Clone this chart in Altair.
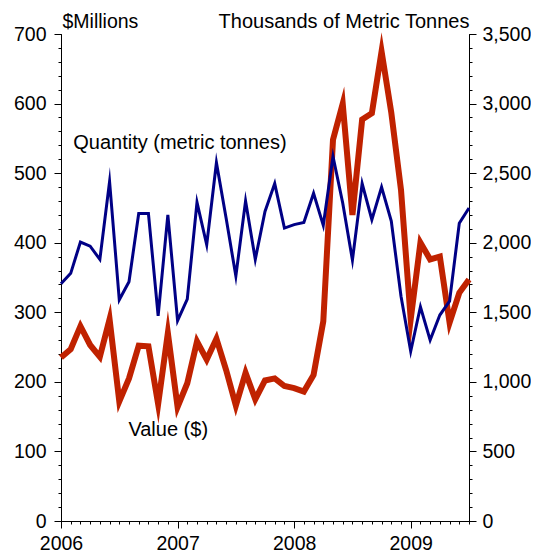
import altair as alt
import pandas as pd

# Monthly observations, Jan 2006 .. Jul 2009
months = [f"{y}-{m:02d}" for y in range(2006, 2010) for m in range(1, 13)][:43]

# Value, $ millions (left axis)
value_musd = [235, 247, 280, 253, 236, 290, 172, 205, 252, 251,
              168, 270, 164, 198, 258, 232, 262, 217, 166, 213,
              175, 202, 205, 194, 191, 186, 210, 287, 548, 600,
              440, 577, 586, 675, 587, 476, 290, 400, 376, 380,
              285, 328, 347]

# Quantity, thousands of metric tonnes (right axis)
quantity_kt = [1705, 1780, 2005, 1975, 1880, 2440, 1590, 1720, 2210, 2210,
               1475, 2200, 1440, 1595, 2290, 1985, 2575, 2175, 1760, 2300,
               1880, 2225, 2425, 2105, 2130, 2145, 2355, 2125, 2620, 2285,
               1875, 2425, 2165, 2400, 2155, 1615, 1220, 1540, 1300, 1480,
               1580, 2140, 2250]

year_ticks = [2006, 2007, 2008, 2009]
left_ticks = list(range(0, 701, 100))
left_minor = list(range(0, 701, 20))
right_ticks = list(range(0, 3501, 500))
right_minor = list(range(0, 3501, 100))

ann_label = ["Quantity (metric tonnes)", "Value ($)"]
ann_t = [2006.105, 2006.578]
ann_v = [534, 122]

df = pd.DataFrame({"month": months, "value": value_musd, "qty": quantity_kt})
df["t"] = df["month"].apply(lambda s: int(s[:4]) + (int(s[5:]) - 1) / 12)
month_ticks = list(df["t"])
ann = pd.DataFrame({"label": ann_label, "t": ann_t, "v": ann_v})

RED = "#C02200"
BLUE = "#000085"
FONT = "Liberation Sans"
FS = 19.5

xs = alt.Scale(domain=[2006, 2009.5], nice=False, zero=False)
yl = alt.Scale(domain=[0, 700], nice=False)
yr = alt.Scale(domain=[0, 3500], nice=False)

base = alt.Chart(df)

red = base.mark_line(color=RED, strokeWidth=6, strokeJoin="miter", strokeMiterLimit=10).encode(
    x=alt.X("t:Q", scale=xs, axis=alt.Axis(values=year_ticks, format="d", orient="bottom",
                                          title=None, tickSize=7, labelPadding=6, labelFlush=False)),
    y=alt.Y("value:Q", scale=yl, axis=alt.Axis(values=left_ticks, format="d", orient="left", tickSize=7,
                                              labelPadding=8, title="$Millions", titleAngle=0,
                                              titleAlign="left", titleBaseline="alphabetic",
                                              titleX=1, titleY=-7)),
)

blue = base.mark_line(color=BLUE, strokeWidth=3, strokeJoin="miter", strokeMiterLimit=10).encode(
    x=alt.X("t:Q", scale=xs, axis=None),
    y=alt.Y("qty:Q", scale=yr, axis=alt.Axis(values=right_ticks, format=",.0f", orient="right",
                                            tickSize=7, labelPadding=6, labelLimit=200,
                                            title="Thousands of Metric Tonnes", titleAngle=0,
                                            titleAlign="right", titleBaseline="alphabetic",
                                            titleX=0, titleY=-7, titleFontSize=20)),
)

minor_l = base.mark_line(opacity=0).encode(
    x=alt.X("t:Q", scale=xs, axis=alt.Axis(values=month_ticks, orient="bottom", labels=False,
                                          title=None, tickSize=3)),
    y=alt.Y("value:Q", scale=yl, axis=alt.Axis(values=left_minor, orient="left", labels=False,
                                              title=None, tickSize=3)),
)

minor_r = base.mark_line(opacity=0).encode(
    x=alt.X("t:Q", scale=xs, axis=None),
    y=alt.Y("qty:Q", scale=yr, axis=alt.Axis(values=right_minor, orient="right", labels=False,
                                            title=None, tickSize=3)),
)

text = alt.Chart(ann).mark_text(align="left", baseline="alphabetic", font=FONT, fontSize=20,
                                color="black").encode(
    x=alt.X("t:Q", scale=xs, axis=None),
    y=alt.Y("v:Q", scale=yl, axis=None),
    text="label:N",
)

chart = alt.layer(red, blue, minor_l, minor_r, text).resolve_scale(
    y="independent"
).resolve_axis(
    x="independent", y="independent"
).properties(
    width=408, height=487,
    padding={"left": 53, "top": 26, "right": 62, "bottom": 31},
    autosize=alt.AutoSizeParams(type="none"),
).configure_axis(
    labelFont=FONT, titleFont=FONT, labelFontSize=FS, titleFontSize=FS,
    titleFontWeight="normal", labelColor="black", titleColor="black",
    tickColor="black", domainColor="black", grid=False,
).configure_view(stroke=None)

chart.save("out.html", embed_options={"renderer": "svg", "actions": False})
